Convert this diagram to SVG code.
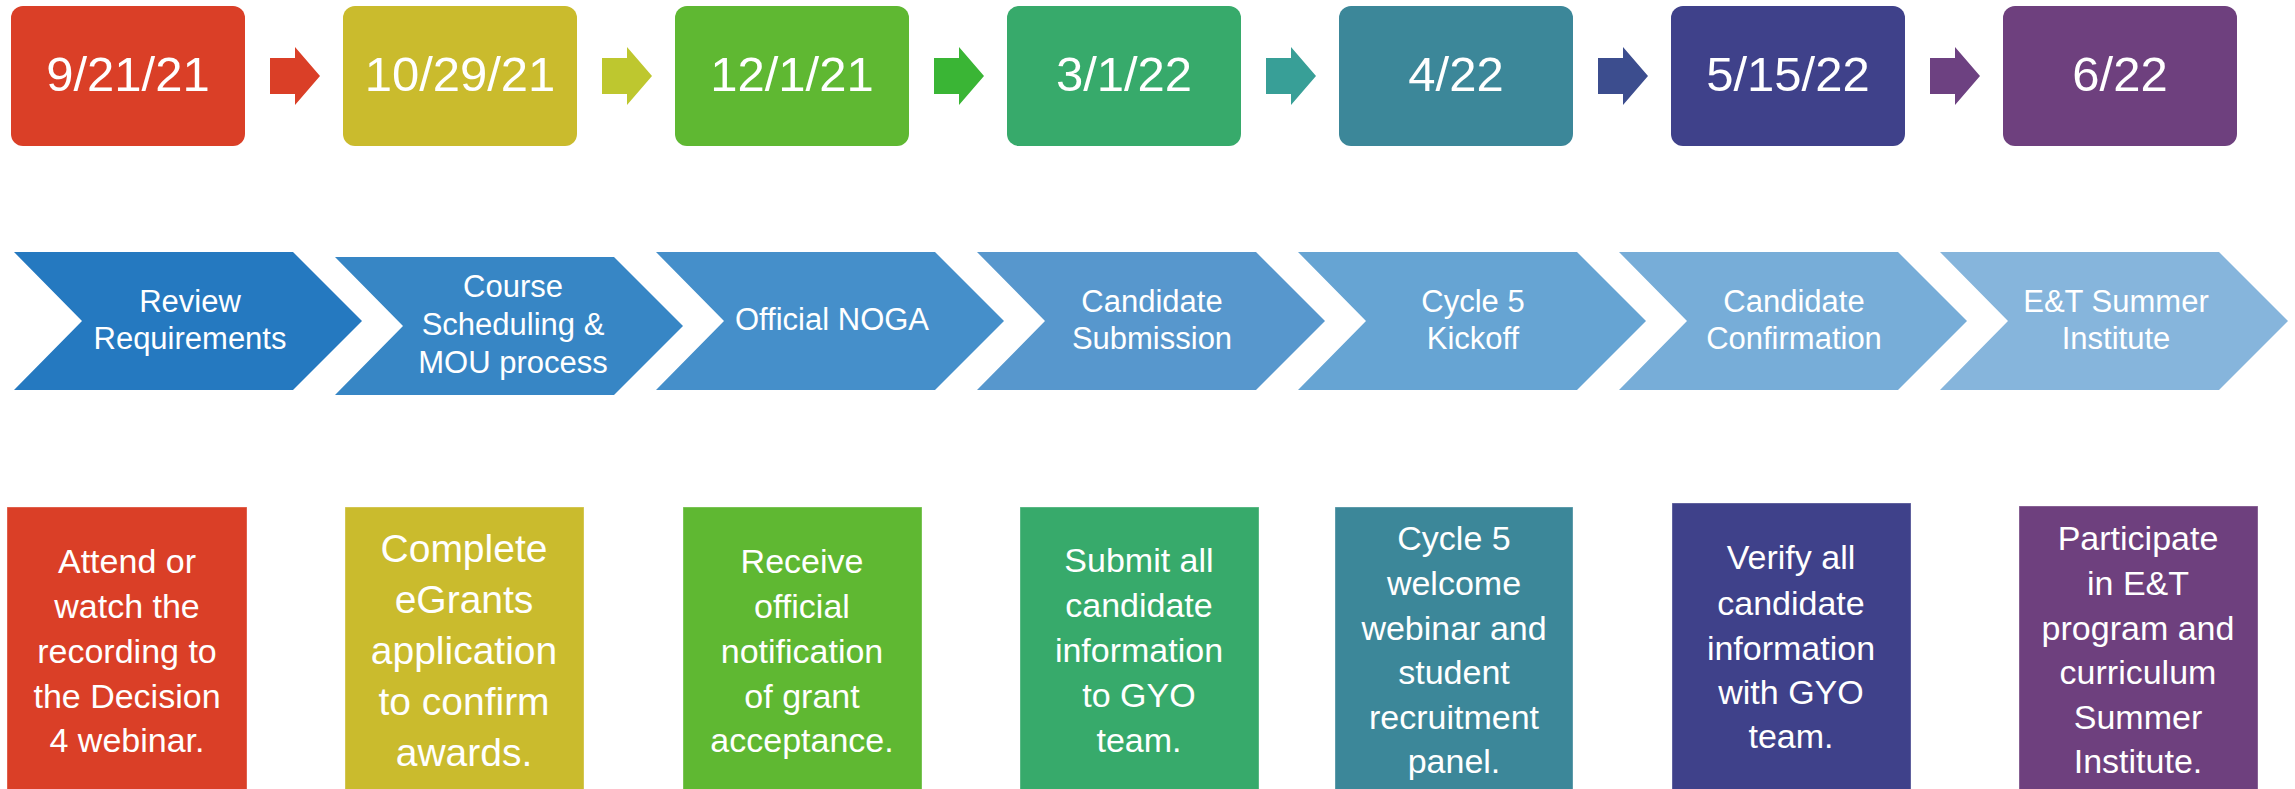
<svg xmlns="http://www.w3.org/2000/svg" width="2295" height="789" viewBox="0 0 2295 789">
<style>
text{font-family:"Liberation Sans",Arial,sans-serif;fill:#ffffff;text-anchor:middle}
.date{font-size:49px}
.chev{font-size:31px}
.desc{font-size:34px}
.desc2{font-size:39px}
.c1{fill:#DA3F27}.c2{fill:#CABB2D}.c3{fill:#5FB832}.c4{fill:#37AA6B}.c5{fill:#3C8799}.c6{fill:#3F418A}.c7{fill:#6E407E}
.a1{fill:#DA3F27}.a2{fill:#BEC72F}.a3{fill:#3AB535}.a4{fill:#389F97}.a5{fill:#3C4D8E}.a6{fill:#6D4181}
.v1{fill:#2579C0}.v2{fill:#3786C5}.v3{fill:#458FCA}.v4{fill:#5797CD}.v5{fill:#66A4D3}.v6{fill:#77ADD8}.v7{fill:#86B5DC}
.bx{stroke:#ffffff;stroke-opacity:0.35;stroke-width:1}
</style>
<defs>
<path id="chevron" d="M0,0 H279 L348,69 L279,138 H0 L68,69 Z"/>
<path id="arrow" d="M0,11 H25 V0 L50,29 L25,58 V47 H0 Z"/>
</defs>
<rect width="2295" height="789" fill="#ffffff"/>

<!-- date boxes -->
<g id="date1"><rect class="c1" x="11" y="6" width="234" height="140" rx="12"/><text class="date" x="128" y="91">9/21/21</text></g>
<g id="date2"><rect class="c2" x="343" y="6" width="234" height="140" rx="12"/><text class="date" x="460" y="91">10/29/21</text></g>
<g id="date3"><rect class="c3" x="675" y="6" width="234" height="140" rx="12"/><text class="date" x="792" y="91">12/1/21</text></g>
<g id="date4"><rect class="c4" x="1007" y="6" width="234" height="140" rx="12"/><text class="date" x="1124" y="91">3/1/22</text></g>
<g id="date5"><rect class="c5" x="1339" y="6" width="234" height="140" rx="12"/><text class="date" x="1456" y="91">4/22</text></g>
<g id="date6"><rect class="c6" x="1671" y="6" width="234" height="140" rx="12"/><text class="date" x="1788" y="91">5/15/22</text></g>
<g id="date7"><rect class="c7" x="2003" y="6" width="234" height="140" rx="12"/><text class="date" x="2120" y="91">6/22</text></g>

<!-- connectors -->
<g id="connectors">
<use href="#arrow" class="a1" x="270" y="47"/>
<use href="#arrow" class="a2" x="602" y="47"/>
<use href="#arrow" class="a3" x="934" y="47"/>
<use href="#arrow" class="a4" x="1266" y="47"/>
<use href="#arrow" class="a5" x="1598" y="47"/>
<use href="#arrow" class="a6" x="1930" y="47"/>
</g>

<!-- chevrons -->
<g id="step1"><use href="#chevron" class="v1" x="14" y="252"/><text class="chev" x="190" y="312">Review</text><text class="chev" x="190" y="349">Requirements</text></g>
<g id="step2"><use href="#chevron" class="v2" x="335" y="257"/><text class="chev" x="513" y="297">Course</text><text class="chev" x="513" y="335">Scheduling &amp;</text><text class="chev" x="513" y="373">MOU process</text></g>
<g id="step3"><use href="#chevron" class="v3" x="656" y="252"/><text class="chev" x="832" y="330">Official NOGA</text></g>
<g id="step4"><use href="#chevron" class="v4" x="977" y="252"/><text class="chev" x="1152" y="312">Candidate</text><text class="chev" x="1152" y="349">Submission</text></g>
<g id="step5"><use href="#chevron" class="v5" x="1298" y="252"/><text class="chev" x="1473" y="312">Cycle 5</text><text class="chev" x="1473" y="349">Kickoff</text></g>
<g id="step6"><use href="#chevron" class="v6" x="1619" y="252"/><text class="chev" x="1794" y="312">Candidate</text><text class="chev" x="1794" y="349">Confirmation</text></g>
<g id="step7"><use href="#chevron" class="v7" x="1940" y="252"/><text class="chev" x="2116" y="312">E&amp;T Summer</text><text class="chev" x="2116" y="349">Institute</text></g>

<!-- description boxes -->
<g id="desc1"><rect class="c1 bx" x="7" y="507" width="240" height="300"/>
<text class="desc" x="127"><tspan x="127" y="573">Attend or</tspan><tspan x="127" y="618">watch the</tspan><tspan x="127" y="663">recording to</tspan><tspan x="127" y="708">the Decision</tspan><tspan x="127" y="752">4 webinar.</tspan></text></g>
<g id="desc2"><rect class="c2 bx" x="345" y="507" width="239" height="300"/>
<text class="desc2" x="464"><tspan x="464" y="562">Complete</tspan><tspan x="464" y="613">eGrants</tspan><tspan x="464" y="664">application</tspan><tspan x="464" y="715">to confirm</tspan><tspan x="464" y="766">awards.</tspan></text></g>
<g id="desc3"><rect class="c3 bx" x="683" y="507" width="239" height="300"/>
<text class="desc" x="802"><tspan x="802" y="573">Receive</tspan><tspan x="802" y="618">official</tspan><tspan x="802" y="663">notification</tspan><tspan x="802" y="708">of grant</tspan><tspan x="802" y="752">acceptance.</tspan></text></g>
<g id="desc4"><rect class="c4 bx" x="1020" y="507" width="239" height="300"/>
<text class="desc" x="1139"><tspan x="1139" y="572">Submit all</tspan><tspan x="1139" y="617">candidate</tspan><tspan x="1139" y="662">information</tspan><tspan x="1139" y="707">to GYO</tspan><tspan x="1139" y="752">team.</tspan></text></g>
<g id="desc5"><rect class="c5 bx" x="1335" y="507" width="238" height="300"/>
<text class="desc" x="1454"><tspan x="1454" y="550">Cycle 5</tspan><tspan x="1454" y="595">welcome</tspan><tspan x="1454" y="640">webinar and</tspan><tspan x="1454" y="684">student</tspan><tspan x="1454" y="729">recruitment</tspan><tspan x="1454" y="773">panel.</tspan></text></g>
<g id="desc6"><rect class="c6 bx" x="1672" y="503" width="239" height="300"/>
<text class="desc" x="1791"><tspan x="1791" y="569">Verify all</tspan><tspan x="1791" y="615">candidate</tspan><tspan x="1791" y="660">information</tspan><tspan x="1791" y="704">with GYO</tspan><tspan x="1791" y="748">team.</tspan></text></g>
<g id="desc7"><rect class="c7 bx" x="2019" y="506" width="239" height="300"/>
<text class="desc" x="2138"><tspan x="2138" y="550">Participate</tspan><tspan x="2138" y="595">in E&amp;T</tspan><tspan x="2138" y="640">program and</tspan><tspan x="2138" y="684">curriculum</tspan><tspan x="2138" y="729">Summer</tspan><tspan x="2138" y="773">Institute.</tspan></text></g>
</svg>
